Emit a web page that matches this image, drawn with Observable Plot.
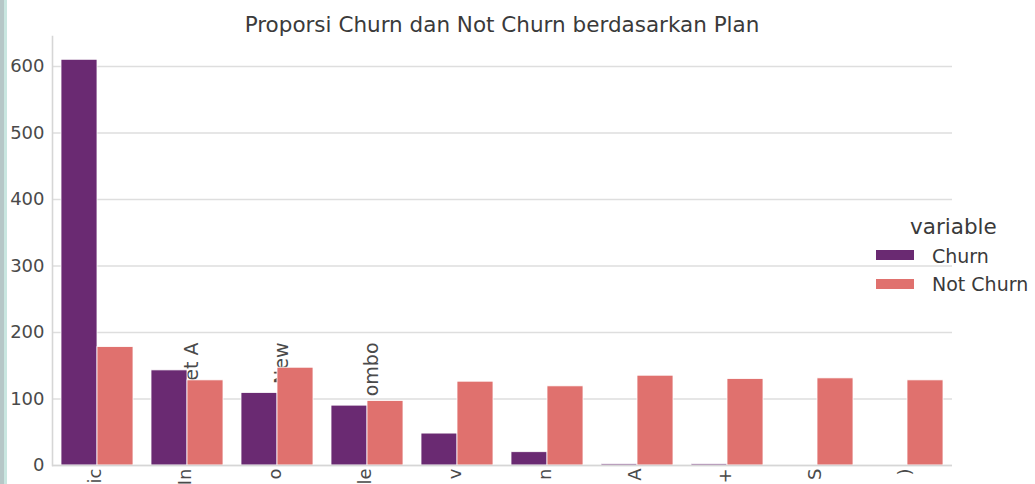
<!DOCTYPE html>
<html>
<head>
<meta charset="utf-8">
<script src="https://cdn.jsdelivr.net/npm/d3@7"></script>
<script src="https://cdn.jsdelivr.net/npm/@observablehq/plot@0.6"></script>
<style>
  body { margin: 0; background: #fff; font-family: "DejaVu Sans", sans-serif; }
  #wrap { position: relative; width: 1035px; height: 484px; overflow: hidden; }
  #stripe { position: absolute; left: 0; top: 0; width: 7px; height: 484px;
    background: linear-gradient(to right, #b6c7c7 0, #b6c7c7 4px, #c9e6e0 4px, #c9e6e0 7px); }
  #title { position: absolute; left: 0; width: 1004px; top: 14px; text-align: center;
    font-size: 21.5px; line-height: 1; color: #3a3a3a; white-space: nowrap; }
  #legend { position: absolute; left: 0; top: 0; }
  .lg-title { position: absolute; left: 910px; top: 216px; font-size: 21.5px; line-height: 1; color: #3a3a3a; white-space: nowrap; }
  .lg-sw { position: absolute; left: 876px; width: 38px; height: 10px; }
  .lg-tx { position: absolute; left: 932px; font-size: 19px; line-height: 1; color: #3a3a3a; white-space: nowrap; }
</style>
</head>
<body>
<div id="wrap">
  <div id="stripe"></div>
  <div id="chart"></div>
  <div id="title"></div>
  <div id="legend"></div>
</div>
<script>
// Categories (visible fragments of the plan names, which are cropped in the original)
const plans = ["ic", "In", "o", "le", "v", "n", "A", "+", "S", ")"];
// Series values
const churn    = [610, 143, 109, 90, 48, 20, 2, 2, 0, 0];
const notChurn = [178, 128, 147, 97, 126, 119, 135, 130, 131, 128];
// Partially visible label fragments seen above some bars
const upperPlans = ["In", "o", "le"];
const upperTexts = ["et A", "New", "ombo"];
// Y tick labels
const yTicks = [0, 100, 200, 300, 400, 500, 600];
// Series names
const seriesNames = ["Churn", "Not Churn"];

const titleText = "Proporsi Churn dan Not Churn berdasarkan Plan";
const legendTitle = "variable";
const colors = ["#6a2a72", "#e0716e"];

const data = plans.map((p, i) => ({plan: p, churn: churn[i], notChurn: notChurn[i]}));
const upper = upperPlans.map((p, i) => ({plan: p, text: upperTexts[i]}));

const chart = Plot.plot({
  width: 1035,
  height: 484,
  marginLeft: 52,
  marginRight: 83,
  marginTop: 36,
  marginBottom: 19,
  style: {fontFamily: "DejaVu Sans", fontSize: "18px", color: "#4a4a4a", background: "transparent"},
  x: {domain: plans, paddingInner: 0.2, paddingOuter: 0.1, axis: null},
  y: {domain: [0, 645], axis: null},
  marks: [
    Plot.ruleY(yTicks, {stroke: "#dedede", strokeWidth: 1.6}),
    Plot.text(upper, {x: "plan", y: 185, text: "text", rotate: -90, textAnchor: "end", fontSize: 19, fill: "#4a4a4a", dx: 4}),
    Plot.barY(data, {x: "plan", y: "churn", fill: colors[0], insetRight: 36, stroke: "#ffffff", strokeWidth: 0.8}),
    Plot.barY(data, {x: "plan", y: "notChurn", fill: colors[1], insetLeft: 36, stroke: "#ffffff", strokeWidth: 0.8}),
    Plot.ruleY([0], {stroke: "#d6d6d6", strokeWidth: 1.6}),
    Plot.frame({anchor: "left", stroke: "#d6d6d6", strokeWidth: 1.6}),
    Plot.axisY(yTicks, {tickSize: 0, tickPadding: 8, fontSize: 18, fill: "#4a4a4a"}),
    Plot.text(data, {x: "plan", frameAnchor: "bottom", text: "plan", rotate: -90, textAnchor: "end", dy: 3, dx: 3, fontSize: 18, fill: "#4a4a4a"})
  ]
});
document.getElementById("chart").appendChild(chart);
document.getElementById("title").textContent = titleText;

const legend = document.getElementById("legend");
const lt = document.createElement("div");
lt.className = "lg-title"; lt.textContent = legendTitle; legend.appendChild(lt);
const swTops = [250, 279], txTops = [247, 275];
seriesNames.forEach((name, i) => {
  const sw = document.createElement("div");
  sw.className = "lg-sw"; sw.style.top = swTops[i] + "px"; sw.style.background = colors[i];
  legend.appendChild(sw);
  const tx = document.createElement("div");
  tx.className = "lg-tx"; tx.style.top = txTops[i] + "px"; tx.textContent = name;
  legend.appendChild(tx);
});
</script>
</body>
</html>
